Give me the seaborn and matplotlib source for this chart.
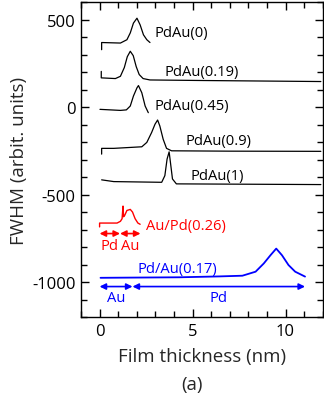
import matplotlib
matplotlib.use("Agg")
import matplotlib.pyplot as plt
import seaborn as sns
import pandas as pd
from matplotlib.ticker import MultipleLocator

# ---------------- data ----------------
x_pdau0 = [0.11, 0.11, 1.12, 1.47, 1.65, 1.82, 2.01, 2.18, 2.36, 2.54, 2.71]
y_pdau0 = [328, 369, 366, 385, 424, 480, 508, 470, 413, 385, 369]

x_pdau019 = [0.09, 0.09, 0.85, 1.12, 1.33, 1.49, 1.65, 1.81, 1.97, 2.13, 2.34, 2.71, 5.37, 11.9]
y_pdau019 = [204, 167, 163, 176, 226, 288, 319, 294, 231, 186, 163, 155, 152, 146]

x_pdau045 = [0.02, 1.12, 1.44, 1.65, 1.82, 2.01, 2.09, 2.27, 2.45, 2.62]
y_pdau045 = [-13, -19, -16, 6, 63, 110, 123, 82, 6, -32]

x_pdau09 = [0.11, 0.11, 0.76, 2.27, 2.54, 2.80, 2.98, 3.12, 3.24, 3.42, 3.60, 3.87, 6.97, 11.9]
y_pdau09 = [-269, -236, -236, -227, -202, -145, -98, -74, -108, -184, -236, -250, -252, -253]

x_pdau1 = [0.11, 0.76, 3.34, 3.51, 3.63, 3.74, 3.81, 3.92, 4.13, 11.9]
y_pdau1 = [-416, -426, -430, -392, -297, -256, -316, -411, -439, -443]

x_aupd026 = [0.0, 0.0, 0.94, 1.12, 1.21, 1.26, 1.29, 1.35, 1.47, 1.65, 1.77, 1.91, 2.06, 2.18]
y_aupd026 = [-685, -663, -663, -653, -638, -566, -627, -619, -591, -585, -600, -638, -663, -670]

x_pdau017 = [0.05, 4.3, 6.44, 7.68, 8.39, 8.83, 9.19, 9.5, 9.81, 10.16, 10.52, 11.05]
y_pdau017 = [-976, -973, -968, -964, -941, -894, -847, -809, -847, -903, -941, -969]

curve_labels = ["PdAu(0)", "PdAu(0.19)", "PdAu(0.45)", "PdAu(0.9)", "PdAu(1)"]
label_x = [2.93, 3.47, 2.93, 4.61, 4.89]
label_y = [428, 204, 10, -193, -392]

red_label = "Au/Pd(0.26)"
blue_label = "Pd/Au(0.17)"
red_layers = ["Pd", "Au"]
red_bounds = [0.0, 1.1, 2.2]
blue_layers = ["Au", "Pd"]
blue_bounds = [0.0, 1.77, 11.05]

yticks = [-1000, -500, 0, 500]
xticks = [0, 5, 10]

# ---------------- style ----------------
sns.set_style("ticks")
plt.rcParams["font.family"] = ["Open Sans", "DejaVu Sans"]
plt.rcParams["axes.unicode_minus"] = False

fig = plt.figure(figsize=(3.24, 4.10), dpi=100)
ax = fig.add_axes([0.25, 0.2244, 0.746, 0.768])

black_curves = [(x_pdau0, y_pdau0), (x_pdau019, y_pdau019), (x_pdau045, y_pdau045),
                (x_pdau09, y_pdau09), (x_pdau1, y_pdau1)]
for (xs, ys) in black_curves:
    df = pd.DataFrame({"x": xs, "y": ys})
    sns.lineplot(data=df, x="x", y="y", ax=ax, color="black", lw=0.9,
                 sort=False, estimator=None)

sns.lineplot(data=pd.DataFrame({"x": x_aupd026, "y": y_aupd026}), x="x", y="y", ax=ax,
             color="#ff0000", lw=1.0, sort=False, estimator=None)
sns.lineplot(data=pd.DataFrame({"x": x_pdau017, "y": y_pdau017}), x="x", y="y", ax=ax,
             color="#0000ff", lw=1.3, sort=False, estimator=None)

for lab, lx, ly in zip(curve_labels, label_x, label_y):
    ax.text(lx, ly, lab, ha="left", va="center", fontsize=10.6, color="black")

ax.text(2.52, -676, red_label, ha="left", va="center", fontsize=10.6, color="#ff0000")
ax.text(2.06, -922, blue_label, ha="left", va="center", fontsize=10.6, color="#0000ff")

def layer_arrows(bounds, names, y, ytxt, color):
    for i, name in enumerate(names):
        x0, x1 = bounds[i], bounds[i + 1]
        ax.annotate("", xy=(x1, y), xytext=(x0, y),
                    arrowprops=dict(arrowstyle="<|-|>", color=color, lw=1.2,
                                    mutation_scale=9, shrinkA=0, shrinkB=0))
        ax.text((x0 + x1) / 2, ytxt, name, ha="center", va="center",
                fontsize=10.6, color=color)

layer_arrows(red_bounds, red_layers, -723, -790, "#ff0000")
layer_arrows(blue_bounds, blue_layers, -1026, -1087, "#0000ff")

ax.set_xlim(-1, 12)
ax.set_ylim(-1200, 600)
ax.set_xticks(xticks)
ax.set_yticks(yticks)
ax.set_yticklabels([str(v) for v in yticks])
ax.xaxis.set_minor_locator(MultipleLocator(1))
ax.yaxis.set_minor_locator(MultipleLocator(100))
ax.tick_params(which="both", direction="in", top=True, right=True, width=1.0,
               labelsize=12, colors="black")
ax.tick_params(which="major", length=5.5, pad=4)
ax.tick_params(which="minor", length=4)
for s in ax.spines.values():
    s.set_linewidth(1.0)
    s.set_color("black")

ax.set_xlabel("Film thickness (nm)", fontsize=13.5, labelpad=6)
ax.set_ylabel("FWHM (arbit. units)", fontsize=13.5, labelpad=3)
fig.text(0.593, 0.061, "(a)", ha="center", va="center", fontsize=13.5)

fig.savefig("out.png", dpi=100)
